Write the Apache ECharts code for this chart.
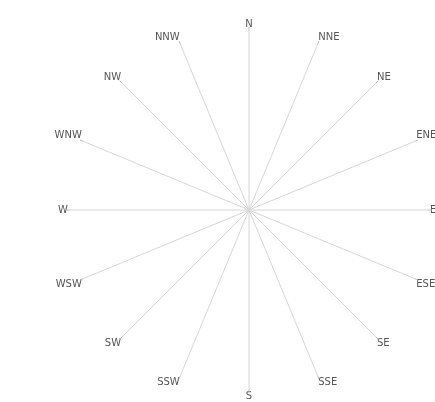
<!DOCTYPE html>
<html>
<head>
<meta charset="utf-8">
<script src="https://cdn.jsdelivr.net/npm/echarts@6/dist/echarts.min.js"></script>
<style>
  html, body { margin: 0; padding: 0; background: #fff; }
  #chart { width: 435px; height: 402px; }
</style>
</head>
<body>
<div id="chart"></div>
<script>
// compass directions, clockwise from north
var directions = ['N', 'NNE', 'NE', 'ENE', 'E', 'ESE', 'SE', 'SSE',
                  'S', 'SSW', 'SW', 'WSW', 'W', 'WNW', 'NW', 'NNW'];

var myChart = echarts.init(document.getElementById('chart'));

var option = {
    animation: false,
    polar: {
        center: [249, 210],
        radius: 179
    },
    angleAxis: {
        type: 'category',
        data: directions,
        startAngle: 90,
        clockwise: true,
        boundaryGap: false,
        axisLine: { show: false },
        axisTick: {
            show: true,
            length: 4,
            lineStyle: { color: '#bbb' }
        },
        axisLabel: {
            margin: 2,
            color: '#555',
            fontSize: 10,
            fontFamily: 'DejaVu Sans'
        },
        splitLine: {
            show: true,
            lineStyle: { color: '#d6d6d6', width: 1 }
        }
    },
    radiusAxis: {
        type: 'value',
        min: 0,
        max: 1,
        axisLine: { show: false },
        axisTick: { show: false },
        axisLabel: { show: false },
        splitLine: { show: false }
    },
    series: []
};

myChart.setOption(option);
</script>
</body>
</html>
